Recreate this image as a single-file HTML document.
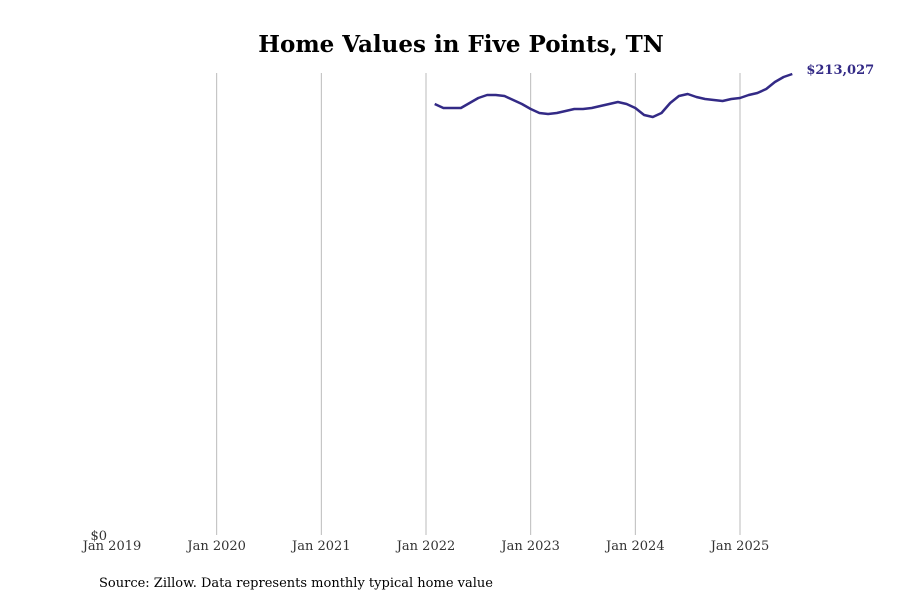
<!DOCTYPE html>
<html><head><meta charset="utf-8"><style>
body{margin:0;background:#fff;}
svg{display:block;font-family:"DejaVu Serif","Liberation Serif",serif;}
</style></head><body>
<svg id="chart" width="900" height="600">
<text x="461" y="52" text-anchor="middle" font-size="23" font-weight="bold" fill="#000">Home Values in Five Points, TN</text>
<g id="grid"></g><g id="xlabels"></g>
<text x="107" y="540" text-anchor="end" font-size="13" fill="#333">$0</text>
<path id="line" fill="none" stroke="#332a86" stroke-width="2.5" stroke-linejoin="round"></path>
<text id="endlabel" font-size="13" font-weight="bold" fill="#332a86"></text>
<text x="99" y="587" font-size="13" fill="#000">Source: Zillow. Data represents monthly typical home value</text>
</svg>
<script>
const tickLabels=["Jan 2019","Jan 2020","Jan 2021","Jan 2022","Jan 2023","Jan 2024","Jan 2025"];
const startMonth=37; // months since Jan 2019 (Feb 2022)
const values=[199165,197317,197317,197317,199627,201938,203324,203324,202862,201014,199165,196855,195006,194544,195006,195930,196855,196855,197317,198241,199165,200089,199165,197317,194082,193158,195006,199627,202862,203786,202400,201476,201014,200551,201476,201938,203324,204248,206096,209331,211641,213027];
const ns="http://www.w3.org/2000/svg";
const x=m=>112+m*(628/72);
const y=v=>535-v*(461/213027);
const grid=document.getElementById('grid'),xl=document.getElementById('xlabels');
tickLabels.forEach((t,i)=>{
  const px=x(i*12);
  if(i>0){const l=document.createElementNS(ns,'line');
  l.setAttribute('x1',px);l.setAttribute('x2',px);l.setAttribute('y1',73);l.setAttribute('y2',535);
  l.setAttribute('stroke','#bbb');l.setAttribute('stroke-width','1');
  
  
  grid.appendChild(l);}
  const tx=document.createElementNS(ns,'text');
  tx.setAttribute('x',px);tx.setAttribute('y',550);tx.setAttribute('text-anchor','middle');
  tx.setAttribute('font-size','13');tx.setAttribute('fill','#333');tx.textContent=t;
  
  
  xl.appendChild(tx);
});
let d='';values.forEach((v,i)=>{d+=(i?'L':'M')+x(startMonth+i).toFixed(1)+','+y(v).toFixed(1);});
document.getElementById('line').setAttribute('d',d);
const last=values[values.length-1],el=document.getElementById('endlabel');
el.setAttribute('x',x(startMonth+values.length-1)+14);el.setAttribute('y',y(last)+0);
el.textContent='$'+last.toLocaleString('en-US');
</script>
</body></html>
